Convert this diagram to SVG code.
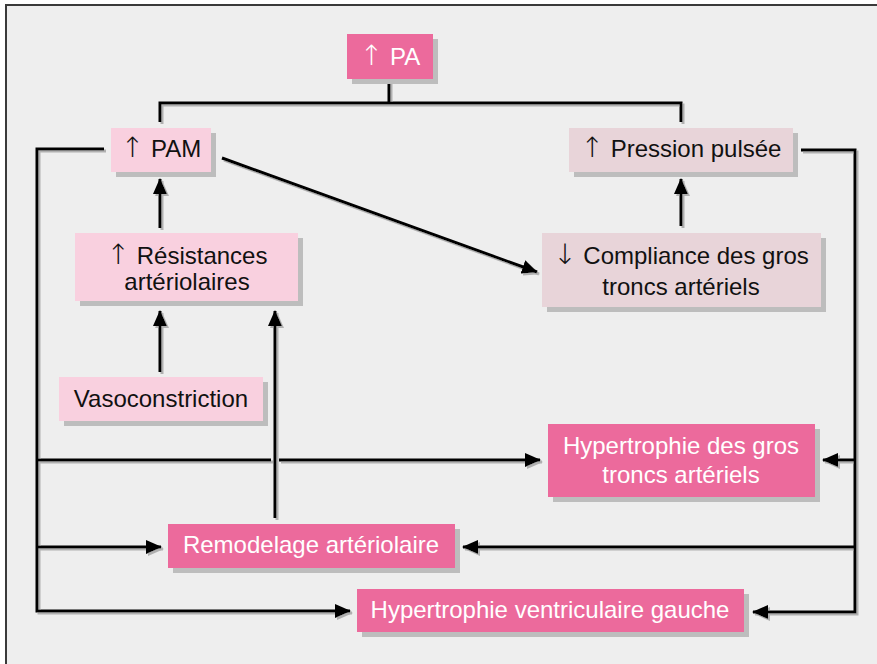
<svg xmlns="http://www.w3.org/2000/svg" width="877" height="664" viewBox="0 0 877 664">
<defs>
<style>
.t{font-family:"Liberation Sans",Arial,"DejaVu Sans",sans-serif;font-size:24px;text-anchor:middle;fill:#111}
.ar{font-family:"DejaVu Sans",sans-serif;font-size:28px;font-weight:200}
.w{fill:#fff}
.sh{fill:#bdbdbd}
.dk{fill:#ec6a9c}
.lt{fill:#f9d0df}
.mv{fill:#e8d4d9}
.c{fill:none;stroke:#000;stroke-width:3}
</style>
<marker id="ah" markerUnits="userSpaceOnUse" markerWidth="16" markerHeight="14" refX="15" refY="7" orient="auto">
<path d="M0,0 L16,7 L0,14 Z" fill="#000"/>
</marker>
<filter id="ls" x="-5%" y="-5%" width="110%" height="110%">
<feDropShadow dx="2" dy="2" stdDeviation="0.3" flood-color="#b0b0b0" flood-opacity="1"/>
</filter>
</defs>
<rect x="0" y="0" width="877" height="664" fill="#fff"/>
<rect x="6" y="5" width="871" height="659" fill="#eeeeee"/>
<path d="M6,664 V5 H877" fill="none" stroke="#3a3a3a" stroke-width="2"/>

<g id="connectors" filter="url(#ls)">
<path class="c" d="M389,79 V103 M160,122 V103 H681 V122"/>
<path class="c" d="M104,149 H37 V611 H350" marker-end="url(#ah)"/>
<path class="c" d="M37,460 H271"/>
<path class="c" d="M279,460 H540" marker-end="url(#ah)"/>
<path class="c" d="M37,547 H161" marker-end="url(#ah)"/>
<path class="c" d="M801,150 H855 V612 H753" marker-end="url(#ah)"/>
<path class="c" d="M855,460 H823" marker-end="url(#ah)"/>
<path class="c" d="M855,547 H463" marker-end="url(#ah)"/>
<path class="c" d="M160,228 V179" marker-end="url(#ah)"/>
<path class="c" d="M160,372 V311" marker-end="url(#ah)"/>
<path class="c" d="M275,518 V311" marker-end="url(#ah)"/>
<path class="c" d="M222,158 L537,272" marker-end="url(#ah)"/>
<path class="c" d="M681,226 V179" marker-end="url(#ah)"/>
</g>

<g id="pa">
<rect class="sh" x="352" y="39" width="86" height="45"/>
<rect class="dk" x="347" y="34" width="86" height="45"/>
<text class="t w" x="390" y="65"><tspan class="ar">↑</tspan> PA</text>
</g>
<g id="pam">
<rect class="sh" x="116" y="133" width="100" height="44"/>
<rect class="lt" x="111" y="128" width="100" height="44"/>
<text class="t" x="161" y="157"><tspan class="ar">↑</tspan> PAM</text>
</g>
<g id="pression">
<rect class="sh" x="574" y="133" width="224" height="44"/>
<rect class="mv" x="569" y="128" width="224" height="44"/>
<text class="t" x="681" y="157"><tspan class="ar">↑</tspan> Pression pulsée</text>
</g>
<g id="resistances">
<rect class="sh" x="80" y="238" width="223" height="68"/>
<rect class="lt" x="75" y="233" width="223" height="68"/>
<text class="t" x="187" y="264"><tspan class="ar">↑</tspan> Résistances</text>
<text class="t" x="187" y="290">artériolaires</text>
</g>
<g id="vasoconstriction">
<rect class="sh" x="64" y="382" width="204" height="44"/>
<rect class="lt" x="59" y="377" width="204" height="44"/>
<text class="t" x="161" y="407">Vasoconstriction</text>
</g>
<g id="compliance">
<rect class="sh" x="547" y="238" width="279" height="74"/>
<rect class="mv" x="542" y="233" width="279" height="74"/>
<text class="t" x="681" y="264"><tspan class="ar">↓</tspan> Compliance des gros</text>
<text class="t" x="681" y="295">troncs artériels</text>
</g>
<g id="hyp-gros">
<rect class="sh" x="553" y="429" width="267" height="73"/>
<rect class="dk" x="548" y="424" width="267" height="73"/>
<text class="t w" x="681" y="454">Hypertrophie des gros</text>
<text class="t w" x="681" y="483">troncs artériels</text>
</g>
<g id="remodelage">
<rect class="sh" x="173" y="529" width="287" height="44"/>
<rect class="dk" x="168" y="524" width="287" height="44"/>
<text class="t w" x="311" y="553">Remodelage artériolaire</text>
</g>
<g id="hvg">
<rect class="sh" x="362" y="594" width="387" height="43"/>
<rect class="dk" x="357" y="589" width="387" height="43"/>
<text class="t w" x="550" y="618">Hypertrophie ventriculaire gauche</text>
</g>
</svg>
